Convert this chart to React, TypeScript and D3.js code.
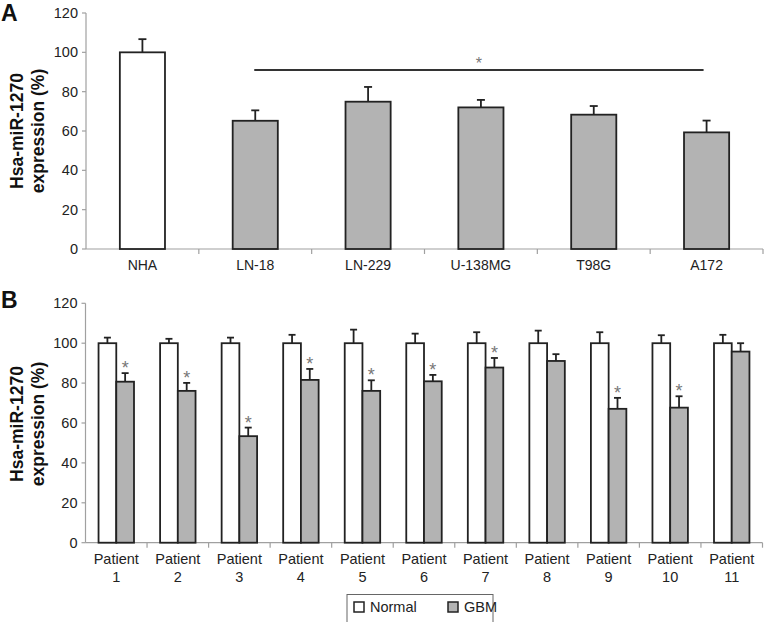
import React from "react";
import * as d3 from "d3";

const cellLines = ["NHA", "LN-18", "LN-229", "U-138MG", "T98G", "A172"];
const cellValues = [100, 65.2, 74.9, 72.0, 68.3, 59.3];
const cellErrors = [6.7, 5.3, 7.5, 3.8, 4.4, 6.0];
const yTicks = [0, 20, 40, 60, 80, 100, 120];

const patients = ["1", "2", "3", "4", "5", "6", "7", "8", "9", "10", "11"];
const normalValues = [100, 100, 100, 100, 100, 100, 100, 100, 100, 100, 100];
const normalErrors = [2.8, 2.2, 2.8, 4.2, 6.8, 4.8, 5.5, 6.3, 5.5, 4.0, 4.2];
const gbmValues = [80.7, 76.1, 53.4, 81.6, 76.1, 80.9, 87.8, 91.1, 67.1, 67.7, 95.8];
const gbmErrors = [4.3, 4.0, 4.3, 5.5, 5.3, 3.2, 4.8, 3.4, 5.5, 5.7, 4.2];
const gbmSignificant = [true, true, true, true, true, true, true, false, true, true, false];
const seriesNames = ["Normal", "GBM"];

const FONT = "'Liberation Sans', Arial, Helvetica, sans-serif";
const AXIS = "#a0a0a0";
const BAR_STROKE = "#222";
const GREY = "#b3b3b3";
const TEXT = "#222";

function YAxis({ y, x0, labelX, labelY, letter, letterY }) {
  return (
    <g>
      <line x1={x0} x2={x0} y1={y(120)} y2={y(0)} stroke={AXIS} strokeWidth={1.2} />
      {yTicks.map((t) => (
        <g key={t}>
          <line x1={x0 - 4} x2={x0} y1={y(t)} y2={y(t)} stroke={AXIS} strokeWidth={1.2} />
          <text x={x0 - 8} y={y(t)} dy="0.35em" textAnchor="end" fontSize={14.5} fill={TEXT} fontFamily={FONT}>
            {t}
          </text>
        </g>
      ))}
      <text
        transform={`translate(${labelX},${labelY}) rotate(-90)`}
        textAnchor="middle"
        fontSize={17.5}
        fontWeight="bold"
        fill="#111"
        fontFamily={FONT}
      >
        <tspan x={0} dy={0}>Hsa-miR-1270</tspan>
        <tspan x={0} dy={21}>expression (%)</tspan>
      </text>
      <text x={1} y={letterY} fontSize={23} fontWeight="bold" fill="#111" fontFamily={FONT}>
        {letter}
      </text>
    </g>
  );
}

function ErrorBar({ cx, yTop, yErr, cap }) {
  return (
    <g stroke={BAR_STROKE} strokeWidth={1.8}>
      <line x1={cx} x2={cx} y1={yTop} y2={yErr} />
      <line x1={cx - cap / 2} x2={cx + cap / 2} y1={yErr} y2={yErr} />
    </g>
  );
}

export default function App() {
  // Panel A
  const xA = d3.scaleBand<string>().domain(cellLines).range([86, 763]).padding(0);
  const yA = d3.scaleLinear().domain([0, 120]).range([249, 13]);
  const bwA = xA.bandwidth() * 0.4;
  const sigY = 91;
  const sigX1 = xA("LN-18")! + xA.bandwidth() * 0.5 - 1;
  const sigX2 = xA("A172")! + xA.bandwidth() * 0.5 - 3;

  // Panel B
  const xB = d3.scaleBand<string>().domain(patients).range([85.5, 762.5]).padding(0);
  const yB = d3.scaleLinear().domain([0, 120]).range([542.7, 303.3]);
  const bwB = xB.bandwidth() * 0.288;

  return (
    <svg
      width={764}
      height={622}
      style={{ position: "absolute", left: 0, top: 0, display: "block", background: "#fff" }}
      fontFamily={FONT}
    >
      <rect width={764} height={622} fill="#fff" />
      {/* Panel A */}
      <YAxis y={yA} x0={86} labelX={23} labelY={131} letter="A" letterY={21} />
      <line x1={86} x2={763} y1={yA(0)} y2={yA(0)} stroke={AXIS} strokeWidth={1.2} />
      {cellLines.map((c, i) => {
        const x0 = xA(c)!;
        const cx = x0 + xA.bandwidth() / 2;
        return (
          <g key={c}>
            <line x1={x0 + xA.bandwidth()} x2={x0 + xA.bandwidth()} y1={yA(0)} y2={yA(0) + 5} stroke={AXIS} strokeWidth={1.2} />
            <ErrorBar cx={cx} yTop={yA(cellValues[i])} yErr={yA(cellValues[i] + cellErrors[i])} cap={8} />
            <rect
              x={cx - bwA / 2}
              y={yA(cellValues[i])}
              width={bwA}
              height={yA(0) - yA(cellValues[i])}
              fill={i === 0 ? "#fff" : GREY}
              stroke={BAR_STROKE}
              strokeWidth={1.8}
            />
            <text x={cx} y={270} textAnchor="middle" fontSize={14} fill={TEXT}>
              {c}
            </text>
          </g>
        );
      })}
      <line x1={sigX1} x2={sigX2} y1={yA(sigY)} y2={yA(sigY)} stroke="#333" strokeWidth={2} />
      <text x={(sigX1 + sigX2) / 2} y={yA(sigY) - 1} textAnchor="middle" fontSize={16} fill="#777">
        *
      </text>

      {/* Panel B */}
      <YAxis y={yB} x0={85.5} labelX={23} labelY={424} letter="B" letterY={308} />
      <line x1={85.5} x2={762.5} y1={yB(0)} y2={yB(0)} stroke={AXIS} strokeWidth={1.2} />
      {patients.map((p, i) => {
        const x0 = xB(p)!;
        const cx = x0 + xB.bandwidth() / 2;
        const nx = cx - bwB;
        const gx = cx;
        return (
          <g key={p}>
            <line x1={x0 + xB.bandwidth()} x2={x0 + xB.bandwidth()} y1={yB(0)} y2={yB(0) + 5} stroke={AXIS} strokeWidth={1.2} />
            <ErrorBar cx={nx + bwB / 2} yTop={yB(normalValues[i])} yErr={yB(normalValues[i] + normalErrors[i])} cap={7} />
            <ErrorBar cx={gx + bwB / 2} yTop={yB(gbmValues[i])} yErr={yB(gbmValues[i] + gbmErrors[i])} cap={7} />
            <rect x={nx} y={yB(normalValues[i])} width={bwB} height={yB(0) - yB(normalValues[i])} fill="#fff" stroke={BAR_STROKE} strokeWidth={1.8} />
            <rect x={gx} y={yB(gbmValues[i])} width={bwB} height={yB(0) - yB(gbmValues[i])} fill={GREY} stroke={BAR_STROKE} strokeWidth={1.8} />
            {gbmSignificant[i] && (
              <text x={gx + bwB / 2} y={yB(gbmValues[i] + gbmErrors[i]) + 1} textAnchor="middle" fontSize={18} fill="#777">
                *
              </text>
            )}
            <text x={cx} y={564} textAnchor="middle" fontSize={14.5} fill={TEXT}>
              Patient
            </text>
            <text x={cx} y={582} textAnchor="middle" fontSize={14.5} fill={TEXT}>
              {p}
            </text>
          </g>
        );
      })}

      {/* Legend */}
      <g>
        <rect x={347} y={594.5} width={146} height={30} fill="#fff" stroke="#666" strokeWidth={1} />
        {seriesNames.map((s, i) => {
          const lx = 354 + i * 94;
          return (
            <g key={s}>
              <rect x={lx} y={602} width={10} height={10} fill={i === 0 ? "#fff" : GREY} stroke="#222" strokeWidth={1.5} />
              <text x={lx + 16} y={612} fontSize={14.5} fill={TEXT}>
                {s}
              </text>
            </g>
          );
        })}
      </g>
    </svg>
  );
}
